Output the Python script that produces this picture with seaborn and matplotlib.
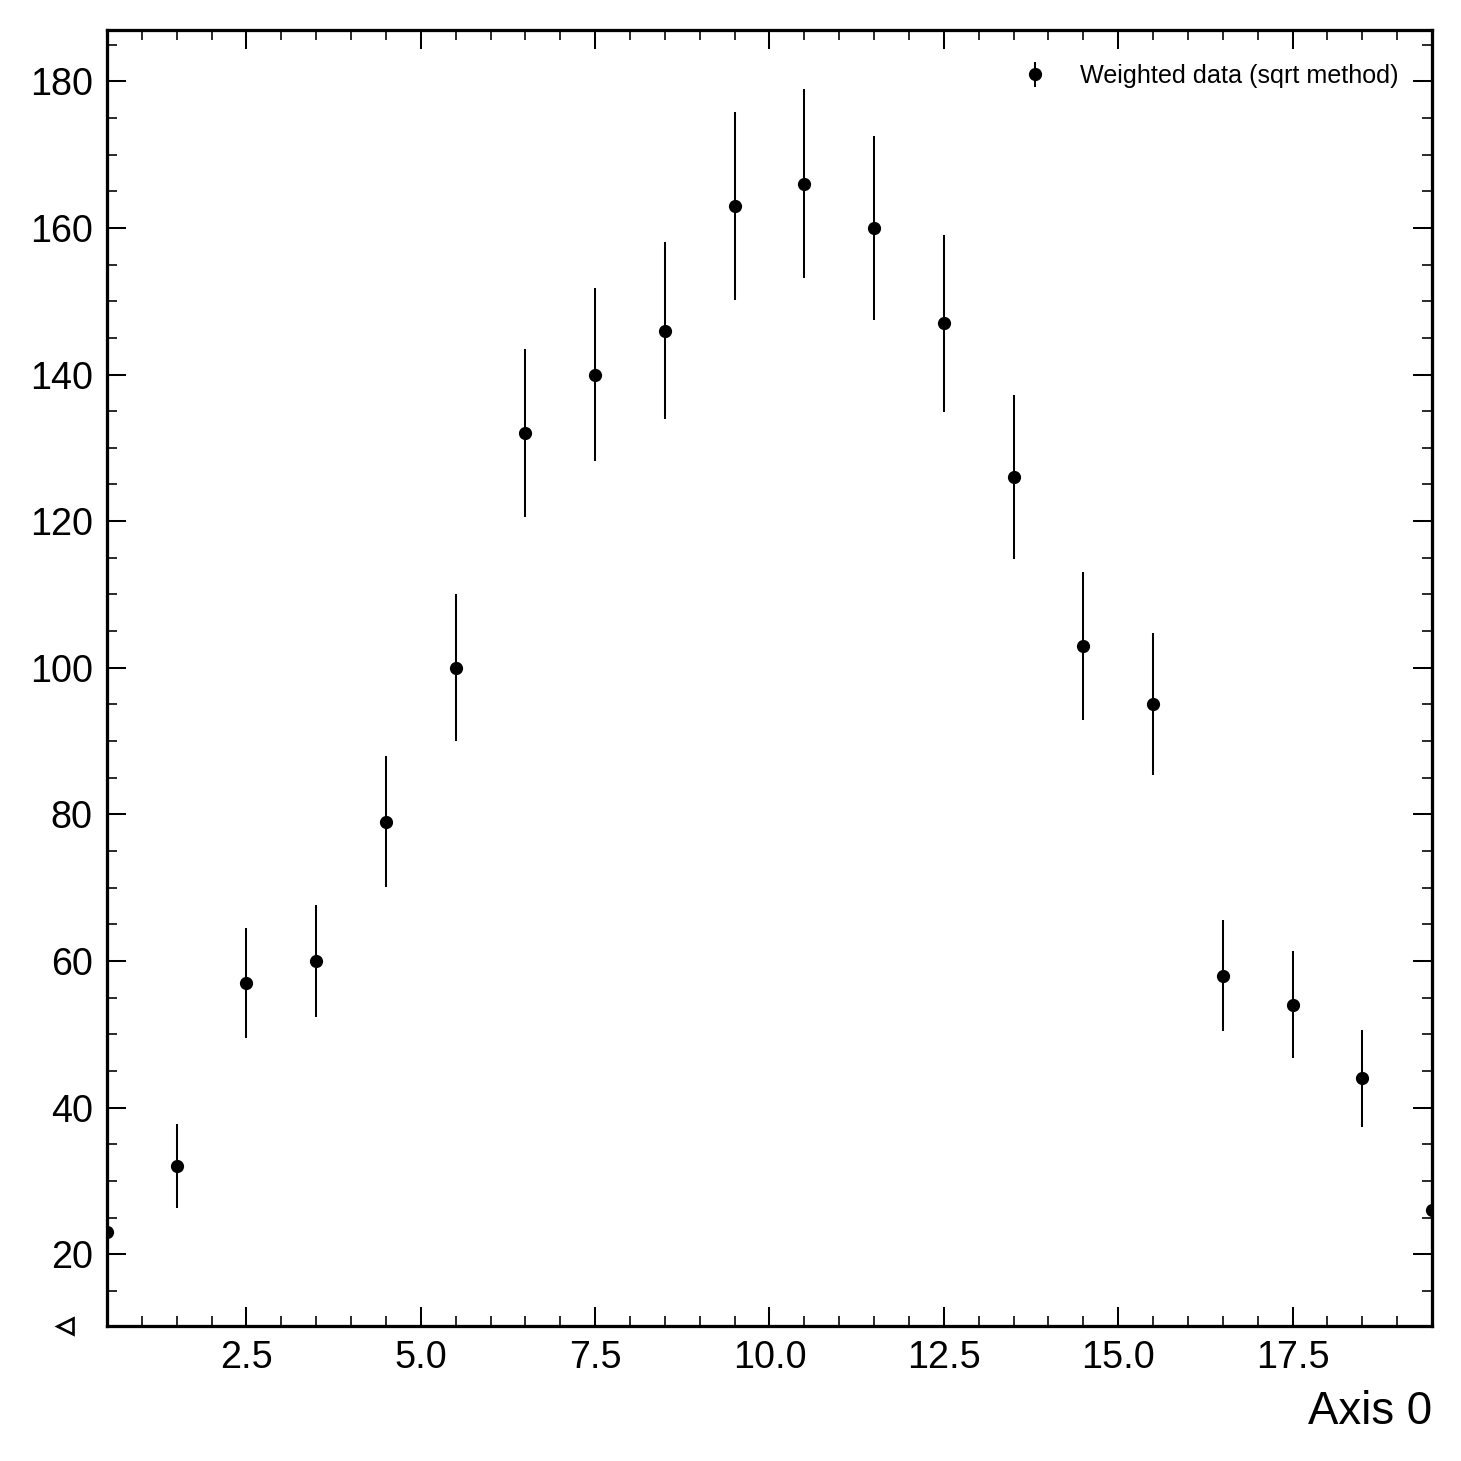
import numpy as np
import pandas as pd
import matplotlib
matplotlib.use("Agg")
import matplotlib.pyplot as plt
from matplotlib.ticker import MultipleLocator
import seaborn as sns

# ---- data ----
bin_centers = [0.5, 1.5, 2.5, 3.5, 4.5, 5.5, 6.5, 7.5, 8.5, 9.5,
               10.5, 11.5, 12.5, 13.5, 14.5, 15.5, 16.5, 17.5, 18.5, 19.5]
counts = [23, 32, 57, 60, 79, 100, 132, 140, 146, 163,
          166, 160, 147, 126, 103, 95, 58, 54, 44, 26]
errors = [4.8, 5.7, 7.5, 7.7, 8.9, 10.0, 11.5, 11.8, 12.1, 12.8,
          12.9, 12.6, 12.1, 11.2, 10.1, 9.7, 7.6, 7.3, 6.6, 5.1]
legend_label = "Weighted data (sqrt method)"
x_label = "Axis 0"

df = pd.DataFrame({"x": bin_centers, "y": counts, "err": errors})

sns.set_theme(style="ticks")
plt.rcParams["font.family"] = ["Liberation Sans", "DejaVu Sans"]
plt.rcParams["text.color"] = "black"
plt.rcParams["axes.labelcolor"] = "black"

fig = plt.figure(figsize=(10, 10), dpi=146.1)
ax = fig.add_axes([107/1461, 1 - 1326/1461, (1432-107)/1461, (1326-30)/1461])

ax.errorbar(df["x"], df["y"], yerr=df["err"], fmt="o", color="black",
            markersize=5.5, elinewidth=1.0, capsize=0, label=legend_label)
sns.scatterplot(data=df, x="x", y="y", ax=ax, color="black", s=30,
                edgecolor="black", linewidth=0, legend=False, zorder=3)

ax.set_xlim(0.5, 19.5)
ax.set_ylim(10.2, 187)

ax.xaxis.set_major_locator(MultipleLocator(2.5))
ax.xaxis.set_minor_locator(MultipleLocator(0.5))
ax.yaxis.set_major_locator(MultipleLocator(20))
ax.yaxis.set_minor_locator(MultipleLocator(5))

ax.tick_params(which="both", direction="in", top=True, right=True,
               colors="black", labelcolor="black", labelsize=18.6)
ax.tick_params(which="major", length=9.5, width=1.0, pad=7)
ax.tick_params(which="minor", length=4.7, width=0.8)

for s in ax.spines.values():
    s.set_linewidth(1.6)
    s.set_color("black")

ax.set_xlabel(x_label, fontsize=22.5, loc="right", labelpad=7, color="black")
ax.set_ylabel("")

leg = ax.legend(loc="upper right", frameon=False, fontsize=12.4,
                handletextpad=0.76, borderaxespad=0.95)
for t in leg.get_texts():
    t.set_color("black")

# underflow marker on the lower-left
ax.plot([-0.032], [0.0], marker="<", markersize=8, markerfacecolor="none",
        markeredgecolor="black", markeredgewidth=1.3,
        transform=ax.transAxes, clip_on=False)

fig.savefig("out.png", dpi=146.1)
